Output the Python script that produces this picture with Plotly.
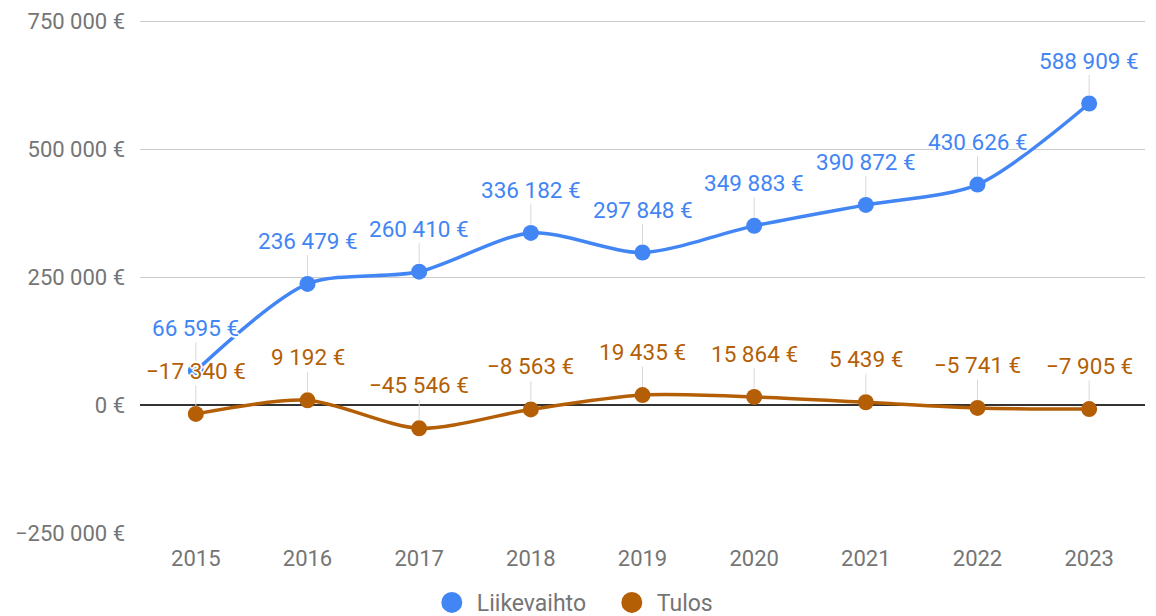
import plotly.graph_objects as go

years = ["2015", "2016", "2017", "2018", "2019", "2020", "2021", "2022", "2023"]
liikevaihto = [66595, 236479, 260410, 336182, 297848, 349883, 390872, 430626, 588909]
tulos = [-17340, 9192, -45546, -8563, 19435, 15864, 5439, -5741, -7905]
y_ticks = [-250000, 0, 250000, 500000, 750000]

BLUE = "#4285F4"
ORANGE = "#B45F06"
FONT = "Roboto"
GREY = "#757575"
HALO = ("2px 0 0 #fff, -2px 0 0 #fff, 0 2px 0 #fff, 0 -2px 0 #fff, "
        "1px 1px 0 #fff, -1px -1px 0 #fff, 1px -1px 0 #fff, -1px 1px 0 #fff")


def fmt(v):
    s = f"{abs(v):,}".replace(",", " ")
    return ("\u2212" if v < 0 else "") + s + " €"


fig = go.Figure()
series = [("Liikevaihto", liikevaihto, BLUE), ("Tulos", tulos, ORANGE)]
for name, vals, col in series:
    fig.add_trace(go.Scatter(
        x=years, y=vals, mode="lines+markers", name=name,
        line=dict(color=col, width=3.5, shape="spline", smoothing=0.8),
        marker=dict(color=col, size=16), showlegend=False, hoverinfo="skip"))
for name, vals, col in series:
    fig.add_trace(go.Scatter(
        x=[years[0]], y=[None], mode="markers", name=name,
        marker=dict(color=col, size=16, line=dict(color=col, width=5)),
        showlegend=True))

annotations = []
for name, vals, col in series:
    for i, v in enumerate(vals):
        annotations.append(dict(
            x=i, y=v, xref="x", yref="y", text=fmt(v), showarrow=True,
            arrowhead=0, arrowwidth=1, arrowcolor="#d9d9d9", ax=0, ay=-43,
            standoff=8,
            font=dict(family=FONT, size=22.5, color=col, shadow=HALO)))

fig.update_layout(
    annotations=annotations,
    width=1156, height=616,
    margin=dict(l=132, r=19, t=12, b=91, autoexpand=False),
    paper_bgcolor="white", plot_bgcolor="white",
    font=dict(family=FONT, size=22, color=GREY),
    legend=dict(orientation="h", xref="container", yref="container",
                x=0.518, xanchor="center", y=-0.006, yanchor="bottom",
                font=dict(family=FONT, size=23, color=GREY),
                itemsizing="trace", itemwidth=40, entrywidth=125),
)
fig.update_xaxes(type="category", range=[-0.5, 8.5], showgrid=False, zeroline=False,
                 showline=False, ticks="", automargin=False, ticklabelstandoff=10,
                 tickfont=dict(size=22, color=GREY))
fig.update_yaxes(range=[-250000, 752000], tickvals=y_ticks,
                 ticktext=[fmt(v) for v in y_ticks], automargin=False,
                 showgrid=True, gridcolor="#cccccc", gridwidth=1,
                 zeroline=True, zerolinecolor="#333333", zerolinewidth=1.5,
                 showline=False, ticks="", ticklabelstandoff=14,
                 tickfont=dict(size=22, color=GREY))

fig.write_html("out.html")
